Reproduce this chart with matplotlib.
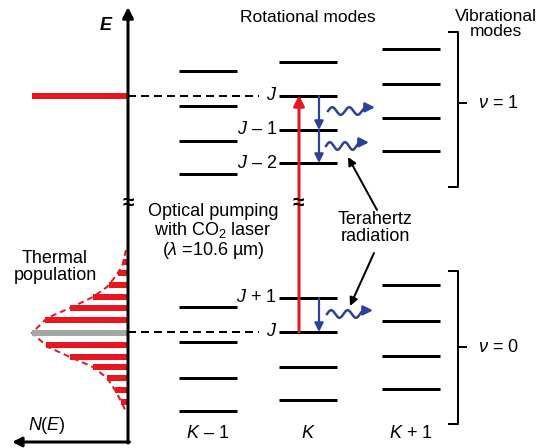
import numpy as np
import matplotlib
matplotlib.use("Agg")
import matplotlib.pyplot as plt

plt.rcParams['font.family'] = ['Liberation Sans', 'DejaVu Sans']
plt.rcParams['mathtext.fontset'] = 'custom'
plt.rcParams['mathtext.rm'] = 'Liberation Sans'
plt.rcParams['mathtext.it'] = 'Liberation Sans:italic'
plt.rcParams['mathtext.bf'] = 'Liberation Sans:bold'

# ---------------- data (diagram units: y grows downward = lower energy) -------------
columns = ["$K$ – 1", "$K$", "$K$ + 1"]
col_x = [208, 308, 411]                     # column centres
levels_v1 = [[71, 106, 141, 174],           # K-1, v=1
             [62, 96, 130, 163],            # K,   v=1
             [49, 84, 118, 151]]            # K+1, v=1
levels_v0 = [[307, 342, 378, 411],
             [298, 332, 367, 400],
             [285, 321, 356, 389]]
level_labels_v1 = [None, "$J$", "$J$ – 1", "$J$ – 2"]
level_labels_v0 = ["$J$ + 1", "$J$", None, None]
pump_level_y = 96          # upper pumped level (K, v=1, J)
ground_level_y = 332       # lower level (K, v=0, J)

# thermal population outline (energy, population width)
pop_energy = [250, 267, 277, 287, 297, 308, 318, 333, 347, 357, 367, 378, 390, 403, 412]
pop_width = [2, 6, 13, 21, 35, 58, 81, 96, 80, 58, 35, 21, 13, 6, 2]
stripe_energy = [262, 273, 285, 297, 308, 320, 345, 357, 367, 378, 390, 402]

RED = '#e8161e'
BLUE = '#2e3f9c'
GRAY = '#a6a6a6'

fig = plt.figure(figsize=(5.43, 4.48), dpi=100)
ax = fig.add_axes([0, 0, 1, 1])
ax.set_xlim(0, 543)
ax.set_ylim(448, 0)
ax.axis('off')

AX_X = 128
HALF = 29

def px(v):
    return v * 0.72

# ---------------- thermal population ----------------
for e in stripe_energy:
    w = np.interp(e, pop_energy, pop_width)
    ax.plot([AX_X - w, AX_X], [e, e], color=RED, lw=px(6), solid_capstyle='butt', zorder=2)
ax.plot([AX_X - pw for pw in pop_width], pop_energy, color=RED, lw=px(2),
        ls=(0, (3, 2)), zorder=3)
ax.plot([AX_X - 96, AX_X], [333, 333], color=GRAY, lw=px(6), solid_capstyle='butt', zorder=3)
ax.plot([32, AX_X], [pump_level_y, pump_level_y], color=RED, lw=px(6),
        solid_capstyle='butt', zorder=3)

# ---------------- axes arrows ----------------
ax.annotate('', xy=(AX_X, 7), xytext=(AX_X, 443),
            arrowprops=dict(arrowstyle='-|>', color='black', lw=px(3),
                            mutation_scale=16, shrinkA=0, shrinkB=0), zorder=5)
ax.annotate('', xy=(12, 442), xytext=(AX_X + 1.5, 442),
            arrowprops=dict(arrowstyle='-|>', color='black', lw=px(3),
                            mutation_scale=14, shrinkA=0, shrinkB=0), zorder=5)
ax.text(106, 25, 'E', fontsize=13, fontweight='bold', fontstyle='italic',
        ha='center', va='center')
ax.text(28, 425, '$N$($E$)', fontsize=13, ha='left', va='center')
ax.text(55, 267, 'Thermal\npopulation', fontsize=13, ha='center', va='center',
        linespacing=1.05)

# ---------------- rotational levels ----------------
for cx, lv1, lv0 in zip(col_x, levels_v1, levels_v0):
    for y in lv1 + lv0:
        ax.plot([cx - HALF, cx + HALF], [y, y], color='black', lw=px(3),
                solid_capstyle='butt', zorder=4)
for col, cx in zip(columns, col_x):
    ax.text(cx, 433, col, fontsize=13, ha='center', va='center')

# level labels in column K
kx = col_x[1] - HALF
for y, lab in zip(levels_v1[1], level_labels_v1):
    if lab:
        ax.text(kx - 2, y, lab, fontsize=13, ha='right', va='center', zorder=6)
for y, lab in zip(levels_v0[1], level_labels_v0):
    if lab:
        ax.text(kx - 2, y, lab, fontsize=13, ha='right', va='center', zorder=6)

# dashed connections
for y in (pump_level_y, ground_level_y):
    ax.plot([AX_X, 259], [y, y], color='black', lw=px(2), ls=(0, (4, 2.5)), zorder=3)

ax.text(308, 18, 'Rotational modes', fontsize=12.5, ha='center', va='center')
ax.text(496, 24, 'Vibrational\nmodes', fontsize=12.5, ha='center', va='center',
        linespacing=1.0)

# ---------------- pumping arrow ----------------
ax.annotate('', xy=(299, pump_level_y - 1), xytext=(299, ground_level_y),
            arrowprops=dict(arrowstyle='-|>', color=RED, lw=px(3),
                            mutation_scale=16, shrinkA=0, shrinkB=0), zorder=6)
for x in (AX_X, 298):
    ax.text(x, 203, '≈', fontsize=15, ha='center', va='center', fontweight='bold',
            zorder=7)

ax.text(213, 232, 'Optical pumping\nwith CO$_2$ laser\n($\\lambda$ =10.6 µm)',
        fontsize=13, ha='center', va='center', linespacing=1.0)

# ---------------- relaxation arrows ----------------
def blue_arrow(y0, y1):
    ax.annotate('', xy=(319, y1), xytext=(319, y0),
                arrowprops=dict(arrowstyle='-|>', color=BLUE, lw=px(2.2),
                                mutation_scale=13, shrinkA=0, shrinkB=0), zorder=6)

def wavy(x0, x1, y):
    t = np.linspace(0, 1, 200)
    xs = x0 + (x1 - 8 - x0) * t
    ys = y - 3.8 * np.sin(2 * np.pi * 2.3 * t)
    ax.plot(xs, ys, color=BLUE, lw=px(2.5), zorder=6)
    ax.annotate('', xy=(x1, ys[-1]), xytext=(x1 - 9, ys[-1]),
                arrowprops=dict(arrowstyle='-|>', color=BLUE, lw=px(2.5),
                                mutation_scale=14, shrinkA=0, shrinkB=0), zorder=6)

blue_arrow(levels_v1[1][1], levels_v1[1][2])
blue_arrow(levels_v1[1][2], levels_v1[1][3])
blue_arrow(levels_v0[1][0], levels_v0[1][1])
wavy(328, 375, 111)
wavy(326, 369, 146)
wavy(327, 373, 314)

# ---------------- terahertz label ----------------
ax.text(375, 228, 'Terahertz\nradiation', fontsize=13, ha='center', va='center',
        linespacing=1.05)
ax.annotate('', xy=(348, 157), xytext=(377, 210),
            arrowprops=dict(arrowstyle='-|>', color='black', lw=px(2),
                            mutation_scale=12, shrinkA=0, shrinkB=0))
ax.annotate('', xy=(350, 306), xytext=(374, 253),
            arrowprops=dict(arrowstyle='-|>', color='black', lw=px(2),
                            mutation_scale=12, shrinkA=0, shrinkB=0))

# ---------------- vibrational brackets ----------------
def bracket(y0, y1, ym, label):
    bx = 458
    ax.plot([bx - 9, bx, bx, bx - 9], [y0, y0, y1, y1], color='black', lw=px(2), zorder=4)
    ax.plot([bx, bx + 8], [ym, ym], color='black', lw=px(2), zorder=4)
    ax.text(478, ym, label, fontsize=13, ha='left', va='center')

bracket(32, 187, 103, '$\\nu$ = 1')
bracket(271, 424, 347, '$\\nu$ = 0')

fig.savefig('out.png', dpi=100)
